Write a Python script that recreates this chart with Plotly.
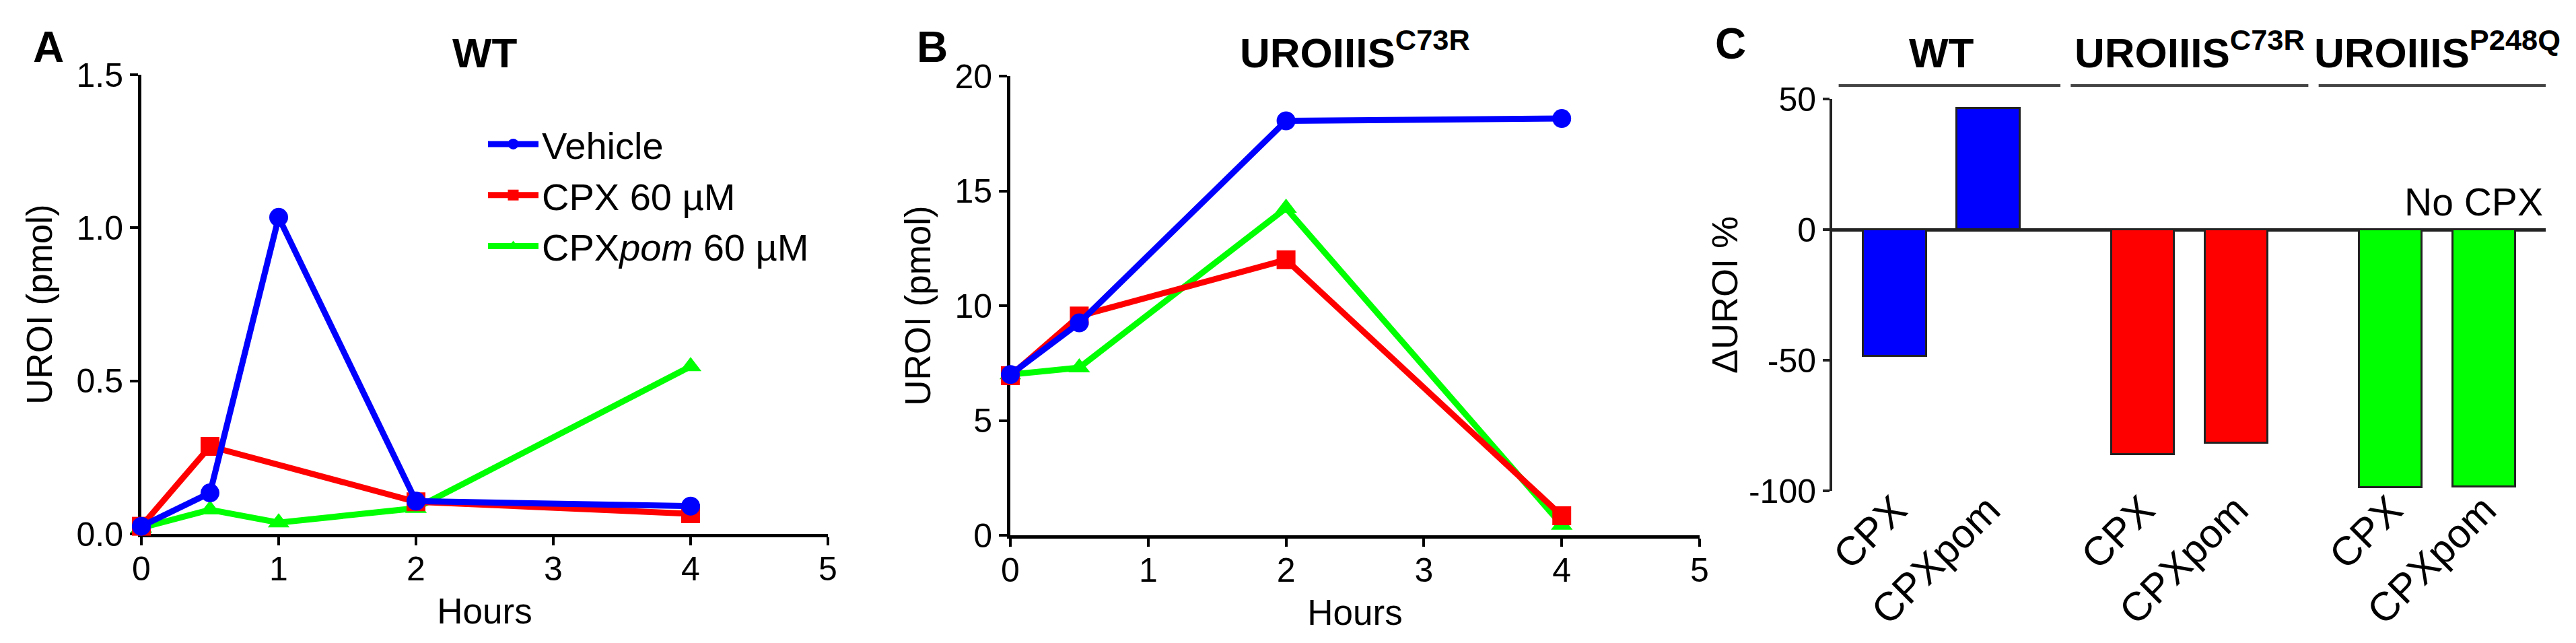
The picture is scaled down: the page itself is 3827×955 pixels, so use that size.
import plotly.graph_objects as go

# %% data
# A - WT, UROI (pmol) vs hours
hours_a = [0, 0.5, 1, 2, 4]
hours_a_cpx = [0, 0.5, 2, 4]
wt_vehicle = [0.025, 0.134, 1.034, 0.107, 0.091]
wt_cpx = [0.025, 0.286, 0.105, 0.066]
wt_cpxpom = [0.02, 0.079, 0.037, 0.084, 0.547]

# B - UROIIIS C73R
hours_b = [0, 0.5, 2, 4]
c73r_vehicle = [7.0, 9.25, 18.05, 18.15]
c73r_cpx = [6.95, 9.55, 12.0, 0.85]
c73r_cpxpom = [7.0, 7.3, 14.25, 0.45]

# C - change of UROI (%)
groups = ['WT', 'UROIIIS<sup>C73R</sup>', 'UROIIIS<sup>P248Q</sup>']
treatments = ['CPX', 'CPXpom']
delta_wt = [-48.5, 46.5]
delta_c73r = [-86.0, -81.7]
delta_p248q = [-98.7, -98.4]
c_yticks = [50, 0, -50, -100]

# %% layout helpers (screen pixel -> paper, page body has an 8px margin)
W, H = 3827, 955
BODY = 8
FONT = 'Liberation Sans, Arial, sans-serif'
BLUE, RED, GREEN = '#0000ff', '#ff0000', '#00ff00'


def fx(p):
    return (p - BODY) / W


def fy(p):
    return 1 - (p - BODY) / H


fig = go.Figure()

# lines: green first so blue ends on top, legend keeps the original order
series_a = [
    ('CPX<i>pom</i> 60 µM', hours_a, wt_cpxpom, GREEN, 'triangle-up', 3),
    ('CPX 60 µM', hours_a_cpx, wt_cpx, RED, 'square', 2),
    ('Vehicle', hours_a, wt_vehicle, BLUE, 'circle', 1),
]
for name, xs, ys, col, sym, rank in series_a:
    fig.add_trace(go.Scatter(
        x=xs, y=ys, name=name, mode='lines+markers', legendrank=rank,
        line={'color': col, 'width': 9},
        marker={'color': col, 'symbol': sym, 'size': 28},
        cliponaxis=False, xaxis='x', yaxis='y'
    ))

series_b = [
    (c73r_cpxpom, GREEN, 'triangle-up'),
    (c73r_cpx, RED, 'square'),
    (c73r_vehicle, BLUE, 'circle'),
]
for ys, col, sym in series_b:
    fig.add_trace(go.Scatter(
        x=hours_b, y=ys, mode='lines+markers', showlegend=False,
        line={'color': col, 'width': 9},
        marker={'color': col, 'symbol': sym, 'size': 28},
        cliponaxis=False, xaxis='x2', yaxis='y2'
    ))

# bars: one trace per genotype
GROUP_STEP = 2.65
group_vals = [delta_wt, delta_c73r, delta_p248q]
group_cols = [BLUE, RED, GREEN]
tick_pos, tick_txt = [], []
for g, (vals, col) in enumerate(zip(group_vals, group_cols)):
    xs = [g * GROUP_STEP + i for i in range(len(treatments))]
    tick_pos += xs
    tick_txt += treatments
    fig.add_trace(go.Bar(
        x=xs, y=vals, width=0.67, showlegend=False,
        marker={'color': col, 'line': {'color': '#222222', 'width': 3}},
        xaxis='x3', yaxis='y3'
    ))

axis_common = dict(
    showline=True, linecolor='black', linewidth=5, mirror=False,
    ticks='outside', ticklen=12, tickwidth=4, tickcolor='black',
    showgrid=False, zeroline=False, layer='below traces', automargin=False,
    tickfont={'size': 50, 'color': 'black', 'family': FONT},
)
title_font = {'size': 53, 'color': 'black', 'family': FONT}

annotations = []
shapes = []

# panel letters and titles
for letter, x, y in [('A', 72, 70), ('B', 1385, 70), ('C', 2571, 65)]:
    annotations.append(dict(
        text='<b>%s</b>' % letter, x=fx(x), y=fy(y), xref='paper', yref='paper',
        showarrow=False, xanchor='center', yanchor='middle',
        font={'size': 64, 'color': 'black', 'family': FONT}
    ))
for txt, x in [('WT', 720), ('UROIIIS<sup>C73R</sup>', 2013)]:
    annotations.append(dict(
        text='<b>%s</b>' % txt, x=fx(x), y=fy(115), xref='paper', yref='paper',
        showarrow=False, xanchor='center', yanchor='bottom',
        font={'size': 62, 'color': 'black', 'family': FONT}
    ))

# genotype headers over panel C
for g, txt in enumerate(groups):
    centre = g * GROUP_STEP + 0.5
    annotations.append(dict(
        text='<b>%s</b>' % txt, x=centre, y=fy(115), xref='x3', yref='paper',
        showarrow=False, xanchor='center', yanchor='bottom',
        font={'size': 62, 'color': 'black', 'family': FONT}
    ))
    shapes.append(dict(
        type='line', xref='x3', yref='paper',
        x0=max(centre - 1.27, -0.6), x1=centre + 1.27, y0=fy(127), y1=fy(127),
        line={'color': '#444444', 'width': 4}
    ))

annotations.append(dict(
    text='No CPX', x=fx(3780), y=fy(300), xref='paper', yref='paper',
    showarrow=False, xanchor='right', yanchor='middle',
    font={'size': 57, 'color': 'black', 'family': FONT}
))

fig.update_layout(
    width=W, height=H,
    margin={'l': 0, 'r': 0, 't': 0, 'b': 0, 'pad': 0, 'autoexpand': False},
    paper_bgcolor='white', plot_bgcolor='white',
    font={'family': FONT, 'color': 'black'},
    bargap=0,
    xaxis=dict(axis_common, domain=[fx(210), fx(1230)], range=[0, 5], dtick=1,
               anchor='y', ticklabelstandoff=-8,
               title={'text': 'Hours', 'font': title_font, 'standoff': 18}),
    yaxis=dict(axis_common, domain=[fy(793), fy(111)], range=[0, 1.5],
               tickvals=[0, 0.5, 1, 1.5], tickformat='.1f', anchor='x',
               title={'text': 'UROI (pmol)', 'font': title_font, 'standoff': 20}),
    xaxis2=dict(axis_common, domain=[fx(1501), fx(2525)], range=[0, 5], dtick=1,
                anchor='y2', ticklabelstandoff=-8,
                title={'text': 'Hours', 'font': title_font, 'standoff': 18}),
    yaxis2=dict(axis_common, domain=[fy(795), fy(113)], range=[0, 20], dtick=5,
                anchor='x2',
                title={'text': 'UROI (pmol)', 'font': title_font, 'standoff': 20}),
    xaxis3=dict(domain=[fx(2722), fx(3782)], range=[-0.669, 6.957], anchor='y3',
                showline=False, showgrid=False, zeroline=False, ticks='',
                automargin=False, ticklabelstandoff=-20,
                tickvals=tick_pos, ticktext=tick_txt, tickangle=-45,
                tickfont={'size': 60, 'color': 'black', 'family': FONT}),
    yaxis3=dict(domain=[fy(729), fy(147)], range=[-100, 50], anchor='x3',
                tickvals=c_yticks, ticktext=[str(v) for v in c_yticks],
                showline=True, linecolor='#222222', linewidth=4, automargin=False,
                ticks='outside', ticklen=10, tickwidth=4, tickcolor='#222222',
                showgrid=False, zeroline=True, zerolinecolor='#222222', zerolinewidth=5,
                tickfont={'size': 50, 'color': 'black', 'family': FONT},
                title={'text': 'ΔUROI %', 'font': {'size': 54, 'color': 'black', 'family': FONT},
                       'standoff': 0}),
    legend=dict(x=fx(720), y=fy(171), xanchor='left', yanchor='top',
                bgcolor='rgba(0,0,0,0)', itemwidth=75,
                font={'size': 56, 'color': 'black', 'family': FONT}),
    annotations=annotations,
    shapes=shapes,
)

fig.write_html('out.html')
